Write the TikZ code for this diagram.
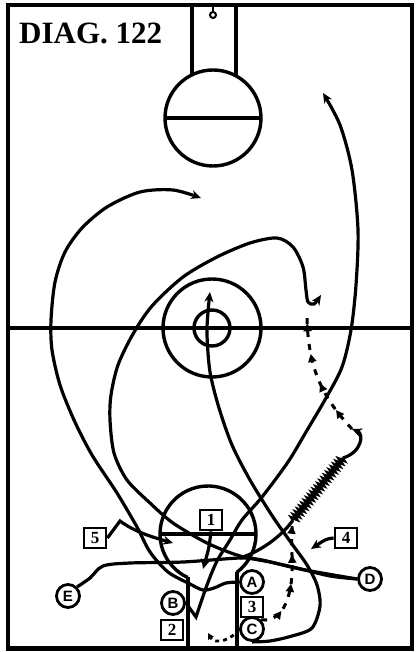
\documentclass[tikz,border=0pt]{standalone}
\usepackage{fontspec}
\setmainfont{Liberation Serif}
\setsansfont{Liberation Sans}
\usetikzlibrary{arrows.meta, decorations.pathmorphing, decorations.markings}
\tikzset{
  court line/.style={line width=3.4pt},
  run/.style={
    line width=3.2pt,                     % player path
    -{Stealth[length=10pt,width=9pt]}
  },
  dribble/.style={
    line width=2.8pt,
    decorate,
    decoration={zigzag, segment length=3.6pt, amplitude=2.8pt}
  },
  pass/.style={
    line width=3pt,
    dash pattern=on 6pt off 7pt,
    postaction={
      decorate,
      decoration={
        markings,
        mark=between positions 0.2 and 1 step 0.25 with {\arrow{Triangle[length=8pt,width=8pt]}}
      }
    }
  },
  offense/.style={draw, line width=2.8pt, minimum width=22pt, minimum height=20pt,
    inner sep=0pt, font=\bfseries\fontsize{17}{17}\selectfont},
  defense/.style={draw, circle, line width=2.8pt, minimum size=23pt,
    inner sep=0pt, font=\sffamily\bfseries\fontsize{15}{15}\selectfont},
}

\begin{document}
\begin{tikzpicture}[x=1pt, y=-1pt]
    \useasboundingbox (0,0) rectangle (416,652);

    % Court
    \draw[court line] (8,5) rectangle (412,648);
    \draw[line width=5pt] (6,648) -- (414,648);
    \draw[court line] (8,328) -- (412,328);
    \node[anchor=north west, inner sep=0pt, font=\bfseries\fontsize{31}{31}\selectfont] (title) at (19,23) {DIAG. 122};

    % Far basket and keyhole
    \draw[court line] (192,5) -- (192,76) (236,5) -- (236,76);
    \draw[court line] (213,118) circle[radius=48];
    \draw[court line] (165,118) -- (261,118);
    \draw[line width=2pt] (213,5) -- (213,12);
    \draw[line width=2pt] (213,15) circle[radius=3];

    % Centre circles
    \draw[court line] (212,328) circle[radius=49] (212,328) circle[radius=18];

    % Near keyhole
    \draw[court line] (208,534) ++(115:48) arc[start angle=115, end angle=413, radius=48];
    \draw[court line] (160,534) -- (256,534);
    \draw[court line] (188,577) -- (188,648) (237,572) -- (237,648);

    % Players
    \foreach \n/\x/\y in {1/211/520, 2/172/630, 3/252/607, 4/346/538, 5/95/538}
        \node[offense] (p\n) at (\x,\y) {\n};
    \foreach \n/\x/\y in {A/252/582, B/173/603, C/252/629, D/370/579, E/68/596}
        \node[defense] (d\n) at (\x,\y) {\n};

    % Free ends
    \coordinate (farA) at (201,198);
    \coordinate (hookD) at (321,295);
    \coordinate (farB) at (323,93);
    \coordinate (midC) at (210,292);
    \coordinate (split) at (240,558);
    \coordinate (cut) at (293,520);
    \coordinate (dribend) at (343,458);
    \coordinate (turn) at (352,429);
    \coordinate (catch) at (307,317);
    \coordinate (drop) at (208,633);

    % A up the left side
    \draw[run] plot[smooth] coordinates {(dA.west) (226,583) (214,588) (203,590) (190,584) (168,572) (150,552) (137,527) (117,493) (92,455) (74,420) (60,385) (52,350) (51,320) (55,282) (65,252) (82,228) (107,207) (140,192) (173,190) (farA)};

    % D across and round the centre
    \draw[run] plot[smooth] coordinates {(dD.west) (330,576) (297,568) (270,562) (240,556) (207,543) (173,523) (150,503) (127,480) (114,453) (110,420) (111,395) (118,365) (133,334) (152,306) (183,277) (217,257) (250,243) (277,238) (293,247) (303,267) (306,290) (308,302) (314,304) (hookD)};

    % E across the lane, then dribble up the side
    \draw[line width=3.2pt] plot[smooth] coordinates {(dE.north east) (90,578) (103,566) (130,563) (183,562) (split) (262,560) (300,569) (dD.west)};
    \draw[line width=3.2pt] (split) .. controls (265,550) and (285,532) .. (cut);
    \draw[dribble] (cut) -- (dribend);
    \draw[run] (dribend) .. controls (362,452) and (364,434) .. (turn);
    \draw[pass] (turn) .. controls (325,400) and (308,372) .. (catch);

    % C passes in and goes up the floor
    \draw[pass] (dC.north east) .. controls (282,622) and (290,600) .. (292,575) .. controls (293,555) and (290,540) .. (cut);
    \draw[line width=2.8pt, dash pattern=on 4pt off 4pt, -{Triangle[length=6pt,width=6pt]}] (dC.west) .. controls (232,640) and (215,645) .. (drop);
    \draw[run] plot[smooth] coordinates {(dC.south) (270,641) (292,636) (312,628) (320,606) (317,585) (307,565) (292,544) (273,517) (250,480) (232,445) (219,408) (210,372) (207,335) (208,312) (midC)};

    % B to the far basket
    \draw[run] (dB.east) -- plot[smooth] coordinates {(196,617) (207,585) (217,561) (230,540) (242,520) (262,497) (288,462) (306,432) (326,398) (342,367) (351,330) (356,285) (358,230) (352,170) (340,125) (farB)};

    % 1, 5 and 4
    \draw[run] (p1.south) .. controls (209,548) .. (203,569);
    \draw[run] (p5.east) -- (120,521) .. controls (135,532) and (152,537) .. (173,543);
    \draw[run] (p4.west) .. controls (326,539) .. (311,549);
\end{tikzpicture}
\end{document}
